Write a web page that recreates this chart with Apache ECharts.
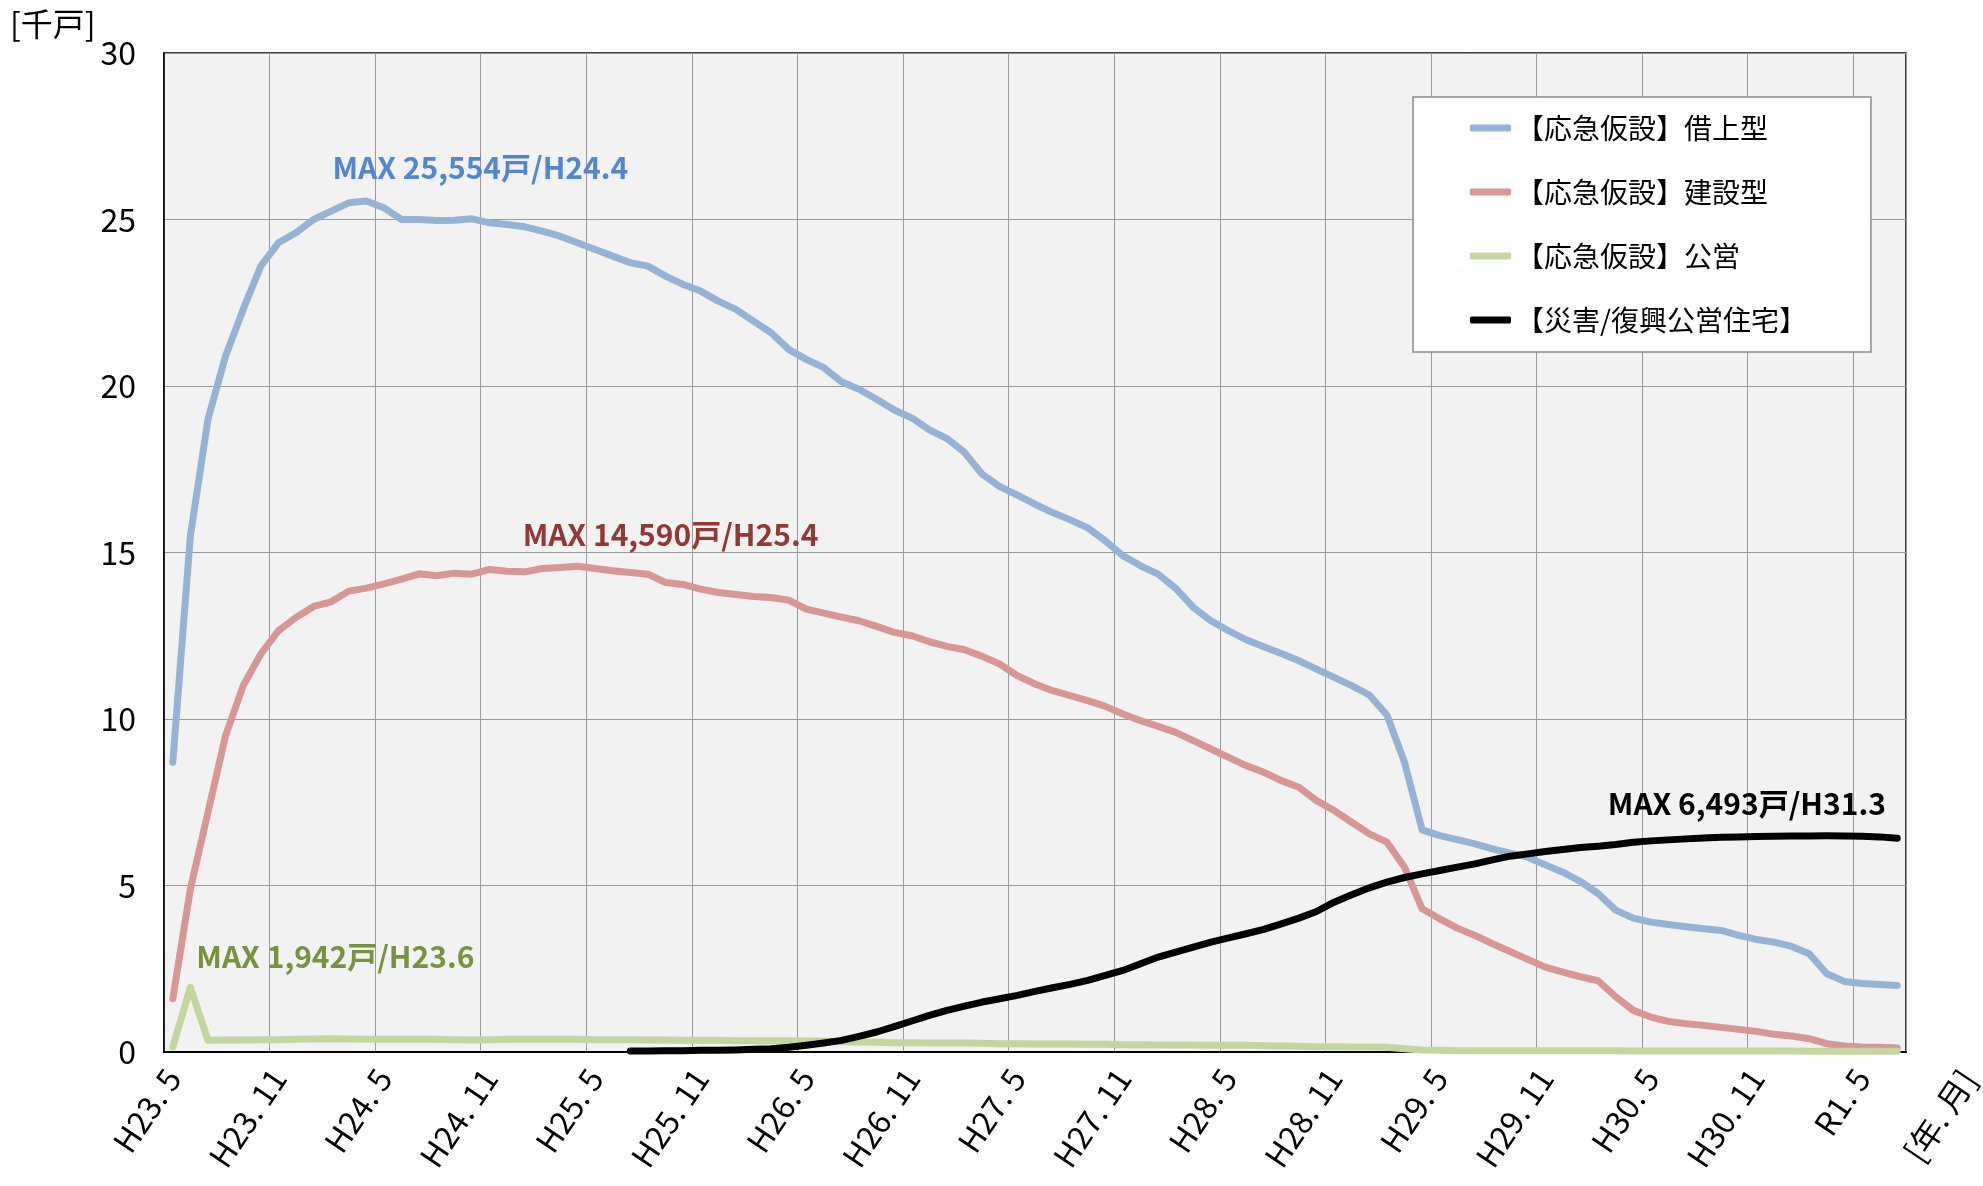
<!DOCTYPE html>
<html>
<head>
<meta charset="utf-8">
<script src="https://cdn.jsdelivr.net/npm/echarts/dist/echarts.min.js"></script>
<style>
  html, body { margin: 0; padding: 0; background: #fff; }
  #chart { width: 1983px; height: 1186px; }
</style>
</head>
<body>
<div id="chart"></div>
<script>
// 月次カテゴリ（H23.5 〜 R1.7）
const months = [];
for (let i = 0; i < 99; i++) {
  const m = 4 + i;
  const year = 23 + Math.floor(m / 12);
  const month = (m % 12) + 1;
  months.push(year < 31 || (year === 31 && month < 5) ? "H" + year + ". " + month : "R" + (year - 30) + ". " + month);
}

const seriesNames = ["【応急仮設】借上型", "【応急仮設】建設型", "【応急仮設】公営", "【災害/復興公営住宅】"];

// 単位：千戸
const kariage = [
  8.7, 15.5, 19.0, 20.9, 22.3, 23.6, 24.3, 24.6, 25.0, 25.25,
  25.5, 25.554, 25.35, 25.0, 25.0, 24.97, 24.98, 25.02, 24.9, 24.85,
  24.78, 24.65, 24.5, 24.3, 24.1, 23.9, 23.7, 23.6, 23.3, 23.05,
  22.85, 22.55, 22.3, 21.95, 21.6, 21.1, 20.8, 20.55, 20.13, 19.9,
  19.6, 19.28, 19.04, 18.68, 18.42, 18.0, 17.35, 16.98, 16.72, 16.45,
  16.2, 15.98, 15.74, 15.35, 14.9, 14.6, 14.35, 13.92, 13.35, 12.95,
  12.65, 12.38, 12.17, 11.97, 11.75, 11.5, 11.25, 11.0, 10.72, 10.12,
  8.7, 6.67, 6.5, 6.38, 6.25, 6.1, 5.97, 5.85, 5.62, 5.4,
  5.12, 4.76, 4.26, 4.02, 3.9, 3.83, 3.76, 3.7, 3.65, 3.5,
  3.38, 3.3, 3.17, 2.95, 2.35, 2.12, 2.06, 2.03, 2.0
];
const kensetsu = [
  1.6, 4.9, 7.2, 9.5, 11.0, 11.95, 12.65, 13.05, 13.38, 13.52,
  13.84, 13.93, 14.06, 14.2, 14.36, 14.3, 14.38, 14.35, 14.49, 14.44,
  14.42, 14.52, 14.55, 14.59, 14.52, 14.45, 14.4, 14.35, 14.1, 14.04,
  13.9, 13.8, 13.74, 13.68, 13.65, 13.57, 13.3, 13.18, 13.06, 12.95,
  12.78, 12.6, 12.5, 12.32, 12.18, 12.08, 11.88, 11.65, 11.3, 11.05,
  10.85, 10.7, 10.55, 10.38, 10.15, 9.95, 9.78, 9.6, 9.35, 9.1,
  8.85, 8.6, 8.4, 8.15, 7.95, 7.55, 7.25, 6.9, 6.55, 6.3,
  5.55, 4.3, 4.0, 3.72, 3.5, 3.25, 3.02, 2.78, 2.55, 2.4,
  2.26, 2.14, 1.66, 1.25, 1.05, 0.92, 0.85, 0.8, 0.74, 0.68,
  0.62, 0.53, 0.48, 0.4, 0.25, 0.18, 0.15, 0.14, 0.12
];
const koei = [
  0.15, 1.942, 0.35, 0.36, 0.36, 0.37, 0.37, 0.38, 0.39, 0.4,
  0.39, 0.38, 0.38, 0.38, 0.38, 0.38, 0.37, 0.36, 0.37, 0.38,
  0.38, 0.38, 0.38, 0.38, 0.37, 0.37, 0.37, 0.36, 0.36, 0.35,
  0.35, 0.35, 0.34, 0.34, 0.34, 0.34, 0.33, 0.32, 0.31, 0.3,
  0.29, 0.28, 0.28, 0.27, 0.27, 0.27, 0.26, 0.25, 0.25, 0.24,
  0.24, 0.24, 0.23, 0.23, 0.22, 0.22, 0.21, 0.21, 0.21, 0.2,
  0.2, 0.2, 0.19, 0.18, 0.17, 0.16, 0.16, 0.15, 0.15, 0.14,
  0.1, 0.06, 0.05, 0.04, 0.04, 0.04, 0.04, 0.04, 0.04, 0.04,
  0.04, 0.04, 0.04, 0.03, 0.03, 0.03, 0.03, 0.03, 0.03, 0.03,
  0.03, 0.03, 0.03, 0.02, 0.02, 0.02, 0.02, 0.02, 0.02
];
const saigai = [
  null, null, null, null, null, null, null, null, null, null,
  null, null, null, null, null, null, null, null, null, null,
  null, null, null, null, null, null, 0.03, 0.03, 0.04, 0.04,
  0.05, 0.05, 0.06, 0.08, 0.1, 0.14, 0.2, 0.27, 0.35, 0.47,
  0.6, 0.76, 0.93, 1.1, 1.25, 1.38, 1.5, 1.6, 1.7, 1.82,
  1.93, 2.03, 2.15, 2.3, 2.45, 2.65, 2.85, 3.0, 3.15, 3.3,
  3.43, 3.55, 3.68, 3.85, 4.02, 4.22, 4.5, 4.72, 4.93, 5.1,
  5.24, 5.35, 5.45, 5.55, 5.65, 5.77, 5.88, 5.95, 6.02, 6.08,
  6.14, 6.18, 6.23, 6.3, 6.34, 6.37, 6.4, 6.43, 6.45, 6.46,
  6.47, 6.48, 6.485, 6.49, 6.493, 6.49, 6.48, 6.46, 6.42
];

const maxLabels = ["MAX 25,554戸/H24.4", "MAX 14,590戸/H25.4", "MAX 1,942戸/H23.6", "MAX 6,493戸/H31.3"];

const font = "'Noto Sans CJK JP', sans-serif";

function lineSeries(name, data, color, label, labelColor, offset) {
  return {
    name: name,
    type: "line",
    data: data,
    color: color,
    symbol: "none",
    showSymbol: false,
    connectNulls: false,
    lineStyle: { width: 7, color: color, cap: "round", join: "round" },
    itemStyle: { color: color },
    markPoint: {
      symbol: "circle",
      symbolSize: 0,
      silent: true,
      data: [{ type: "max" }],
      label: {
        show: true,
        position: "inside",
        offset: offset,
        formatter: label,
        color: labelColor,
        fontSize: 30,
        fontWeight: "bold",
        fontFamily: font,
      },
    },
  };
}

const myChart = echarts.init(document.getElementById("chart"));
myChart.setOption({
  animation: false,
  backgroundColor: "#fff",
  title: {
    text: "[千戸]",
    left: 10,
    top: 8,
    padding: 0,
    textStyle: { fontSize: 32, fontWeight: "normal", color: "#000", fontFamily: font },
  },
  legend: {
    orient: "vertical",
    left: 1413,
    top: 97,
    padding: [16, 64, 17, 57],
    itemGap: 34,
    itemWidth: 41,
    itemHeight: 7,
    icon: "roundRect",
    backgroundColor: "#fff",
    borderColor: "#8c8c8c",
    borderWidth: 1.5,
    itemStyle: { borderWidth: 0 },
    textStyle: { fontSize: 28, lineHeight: 30, color: "#000", fontFamily: font },
    data: seriesNames,
  },
  grid: {
    left: 164,
    right: 77,
    top: 53,
    bottom: 134,
    show: true,
    backgroundColor: "#f2f2f2",
    borderColor: "#000",
    borderWidth: 1.5,
    outerBoundsMode: "none",
  },
  xAxis: {
    type: "category",
    data: months,
    boundaryGap: true,
    name: "[年. 月]",
    nameLocation: "end",
    nameRotate: 56,
    nameGap: 77,
    nameMoveOverlap: false,
    nameTextStyle: {
      align: "right",
      verticalAlign: "middle",
      padding: [0, 26, 0, 0],
      fontSize: 32,
      color: "#000",
      fontFamily: font,
    },
    axisLine: { lineStyle: { color: "#000", width: 2 } },
    axisTick: { interval: 5, length: 9, lineStyle: { color: "#000", width: 1.5 } },
    axisLabel: { interval: 5, rotate: 56, margin: 20, fontSize: 32, color: "#000", fontFamily: font },
    splitLine: { show: true, interval: 5, lineStyle: { color: "#999", width: 1 } },
  },
  yAxis: {
    type: "value",
    min: 0,
    max: 30,
    interval: 5,
    axisLine: { show: true, lineStyle: { color: "#000", width: 1.5 } },
    axisTick: { show: false },
    axisLabel: { fontSize: 32, color: "#000", margin: 28, fontFamily: font },
    splitLine: { lineStyle: { color: "#999", width: 1 } },
  },
  series: [
    lineSeries(seriesNames[0], kariage, "#95b3d7", maxLabels[0], "#4f87d6", [114, -33]),
    lineSeries(seriesNames[1], kensetsu, "#d99694", maxLabels[1], "#953735", [93, -32]),
    lineSeries(seriesNames[2], koei, "#c3d69b", maxLabels[2], "#77933c", [145, -31]),
    lineSeries(seriesNames[3], saigai, "#000000", maxLabels[3], "#000000", [-80, -32]),
  ],
});
window.addEventListener("resize", function () {
  myChart.resize();
});
</script>
</body>
</html>
